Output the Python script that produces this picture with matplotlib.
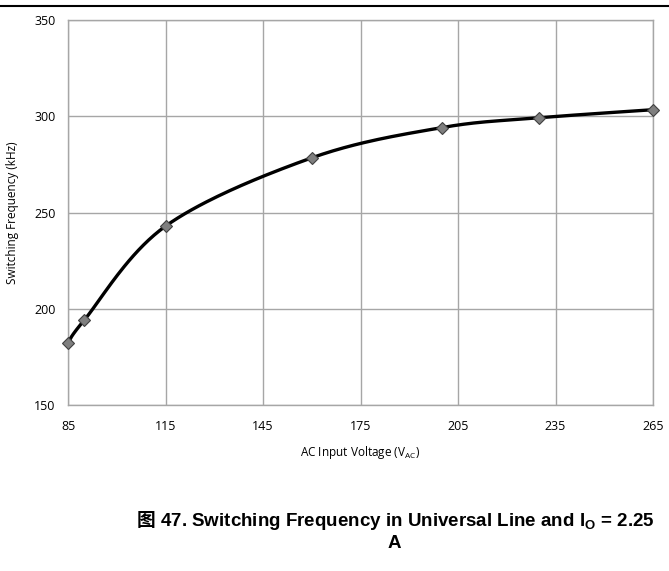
import matplotlib
matplotlib.use('Agg')
import matplotlib.pyplot as plt
from matplotlib.lines import Line2D
import numpy as np

# values
voltage = [85, 90, 115, 160, 200, 230, 265]
frequency = [182.2, 194.1, 242.9, 278.4, 294.1, 299.2, 303.4]

x_ticks = [85, 115, 145, 175, 205, 235, 265]
y_ticks = [150, 200, 250, 300, 350]

GRID = '#a6a6a6'


def smooth_curve(xs, ys, sx, sy, steps=40):
    # Catmull-Rom through the points, done in screen-like scaled units
    px = np.asarray(xs, float) * sx
    py = np.asarray(ys, float) * sy
    pts = np.column_stack([px, py])
    pts = np.vstack([pts[0], pts, pts[-1]])
    out = []
    for i in range(1, len(pts) - 2):
        p0, p1, p2, p3 = pts[i - 1], pts[i], pts[i + 1], pts[i + 2]
        c1 = p1 + (p2 - p0) / 6
        c2 = p2 - (p3 - p1) / 6
        t = np.linspace(0, 1, steps)[:, None]
        seg = ((1 - t) ** 3 * p1 + 3 * (1 - t) ** 2 * t * c1
               + 3 * (1 - t) * t ** 2 * c2 + t ** 3 * p2)
        out.append(seg)
    out = np.vstack(out)
    return out[:, 0] / sx, out[:, 1] / sy


fig = plt.figure(figsize=(6.69, 5.71), dpi=100)
ax = fig.add_axes([68 / 669, 1 - 405 / 571, 585 / 669, 385 / 571])

sx = 585 / 180
sy = 385 / 200
cx, cy = smooth_curve(voltage, frequency, sx, sy)
ax.plot(cx, cy, color='black', lw=2.4, zorder=3, solid_capstyle='round')
ax.plot(voltage, frequency, linestyle='none', marker='D', markersize=6,
        markerfacecolor='#7f7f7f', markeredgecolor='#404040',
        markeredgewidth=0.8, zorder=4, clip_on=False)

ax.set_xlim(85, 265)
ax.set_ylim(150, 350)
ax.set_xticks(x_ticks)
ax.set_yticks(y_ticks)
ax.grid(True, color=GRID, lw=1.0)
ax.set_axisbelow(True)
for s in ax.spines.values():
    s.set_color(GRID)
    s.set_linewidth(1.0)
ax.tick_params(length=0, labelsize=9)
ax.tick_params(axis='x', pad=11)
ax.tick_params(axis='y', pad=9)
for lab in ax.get_xticklabels() + ax.get_yticklabels():
    lab.set_family('Open Sans')

ax.set_xlabel(r'AC Input Voltage (V$_\mathregular{AC}$)', fontsize=8.5,
              family='Open Sans', labelpad=8)
ax.set_ylabel('Switching Frequency (kHz)', fontsize=8.5, family='Open Sans',
              labelpad=11)

# rule at the top of the page
fig.add_artist(Line2D([0, 1], [1 - 6 / 571, 1 - 6 / 571], color='black',
                      lw=1.5, transform=fig.transFigure))

# caption: CJK glyph drawn on its own, since mathtext has no font fallback
cap = fig.text(405 / 669, 1 - 521 / 571,
               ' 47. Switching Frequency in Universal Line and '
               'I$_\\mathregular{O}$ = 2.25',
               ha='center', va='center', fontsize=13.5, fontweight='bold',
               family='Liberation Sans')
ax.annotate('图', xy=(0, 0.5), xycoords=cap, ha='right', va='center',
            fontsize=13.5, fontweight='bold', family='Noto Sans CJK SC',
            annotation_clip=False)
fig.text(394 / 669, 1 - 543 / 571, 'A', ha='center', va='center',
         fontsize=13.5, fontweight='bold', family='Liberation Sans')

fig.savefig('out.png', dpi=100)
